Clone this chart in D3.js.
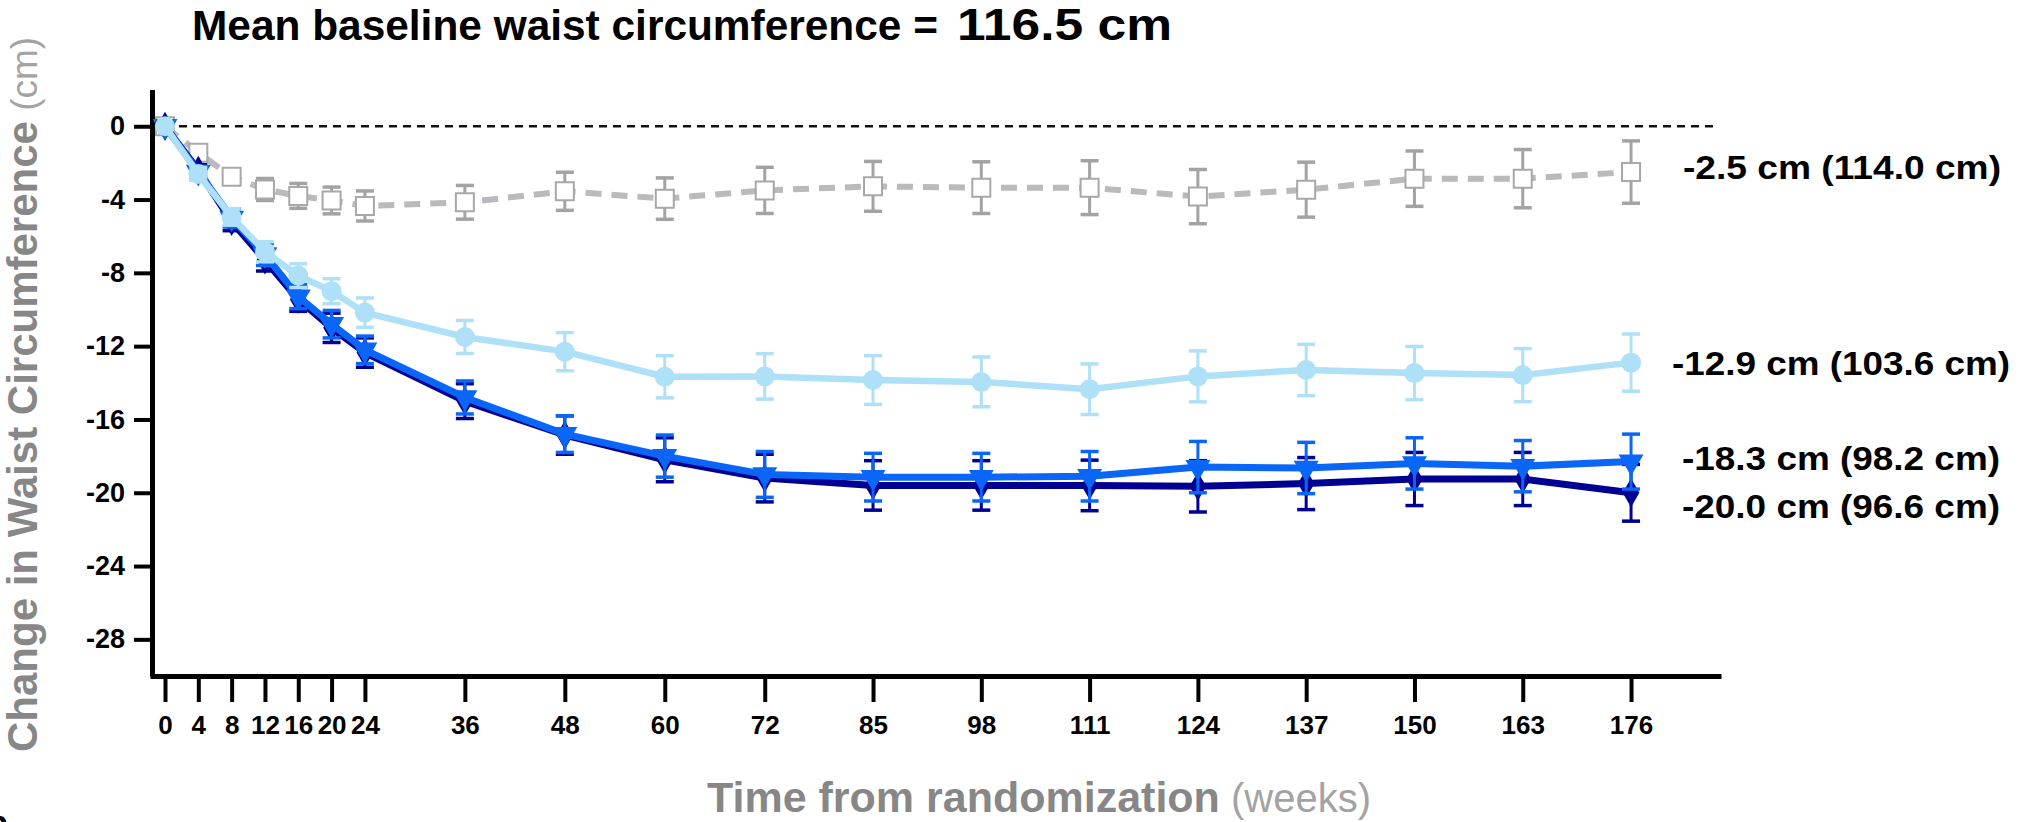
<!DOCTYPE html>
<html>
<head>
<meta charset="utf-8">
<script src="https://cdn.jsdelivr.net/npm/d3@7"></script>
<style>
  html, body { margin: 0; padding: 0; background: #fff; }
  svg { display: block; font-family: "Liberation Sans", Arial, Helvetica, sans-serif; }
</style>
</head>
<body>
<svg id="chart" width="2022" height="822"></svg>
<script>
// Visit weeks (x axis ticks)
const weeks = [0, 4, 8, 12, 16, 20, 24, 36, 48, 60, 72, 85, 98, 111, 124, 137, 150, 163, 176];

// Mean change in waist circumference (cm) and standard error per arm
const placeboMean = [0, -1.45, -2.75, -3.45, -3.8, -4.05, -4.35, -4.15, -3.55, -3.95, -3.5, -3.28, -3.35, -3.35, -3.84, -3.46, -2.86, -2.86, -2.5];
const placeboSE   = [0, 0.25, 0.4, 0.6, 0.68, 0.73, 0.82, 0.92, 1.04, 1.13, 1.26, 1.36, 1.41, 1.47, 1.48, 1.5, 1.51, 1.59, 1.7];

const dose5Mean = [0, -2.6, -4.95, -6.85, -8.15, -9.0, -10.17, -11.5, -12.3, -13.67, -13.65, -13.85, -13.95, -14.35, -13.65, -13.3, -13.47, -13.58, -12.9];
const dose5SE   = [0, 0.35, 0.45, 0.55, 0.65, 0.68, 0.8, 0.9, 1.04, 1.15, 1.24, 1.33, 1.36, 1.38, 1.39, 1.4, 1.45, 1.45, 1.56];

const dose10Mean = [0, -2.5, -5.0, -7.0, -9.3, -10.8, -12.2, -14.8, -16.8, -18.0, -19.0, -19.15, -19.15, -19.1, -18.6, -18.65, -18.4, -18.55, -18.3];
const dose10SE   = [0, 0.3, 0.5, 0.6, 0.65, 0.75, 0.75, 0.9, 1.0, 1.15, 1.25, 1.3, 1.3, 1.35, 1.4, 1.4, 1.4, 1.4, 1.5];

const dose15Mean = [0, -2.4, -5.2, -7.3, -9.45, -11.0, -12.35, -15.0, -16.85, -18.2, -19.2, -19.6, -19.6, -19.6, -19.65, -19.5, -19.25, -19.25, -20.0];
const dose15SE   = [0, 0.3, 0.5, 0.6, 0.65, 0.8, 0.8, 0.95, 1.05, 1.2, 1.3, 1.35, 1.35, 1.38, 1.4, 1.42, 1.45, 1.45, 1.55];

// y axis ticks
const yTicks = [0, -4, -8, -12, -16, -20, -24, -28];

// End-of-study annotations (change, and mean waist at week 176)
const endLabels = ["-2.5 cm (114.0 cm)", "-12.9 cm (103.6 cm)", "-18.3 cm (98.2 cm)", "-20.0 cm (96.6 cm)"];

const titleText = "Mean baseline waist circumference =";
const titleValue = "116.5 cm";

// ---- layout ----
const svg = d3.select("#chart");
const x = d3.scaleLinear().domain([-1.8, 186.8]).range([150, 1721]);
const y = d3.scaleLinear().domain([-30, 2]).range([676, 89.6]);

// Title
svg.append("text")
  .attr("x", 192).attr("y", 40)
  .attr("font-size", 42).attr("font-weight", "bold").attr("fill", "#000")
  .attr("textLength", 746).attr("lengthAdjust", "spacingAndGlyphs")
  .text(titleText);
svg.append("text")
  .attr("x", 957).attr("y", 40)
  .attr("font-size", 44).attr("font-weight", "bold").attr("fill", "#000")
  .attr("textLength", 215).attr("lengthAdjust", "spacingAndGlyphs")
  .text(titleValue);

// Zero reference line
svg.append("line")
  .attr("x1", x(0)).attr("x2", 1717)
  .attr("y1", y(0)).attr("y2", y(0))
  .attr("stroke", "#111").attr("stroke-width", 2.5)
  .attr("stroke-dasharray", "8,6");

// Axes
const yAxis = d3.axisLeft(y).tickValues(yTicks).tickSize(18).tickSizeOuter(0).tickPadding(9)
  .tickFormat(d => String(d));
const gy = svg.append("g").attr("transform", "translate(152,0)").call(yAxis);
gy.select(".domain").attr("stroke", "#000").attr("stroke-width", 5);
gy.selectAll(".tick line").attr("stroke", "#000").attr("stroke-width", 4);
gy.selectAll(".tick text").attr("font-size", 27).attr("font-weight", "bold")
  .attr("font-family", "'Liberation Sans', Arial, sans-serif").attr("fill", "#000");

const xAxis = d3.axisBottom(x).tickValues(weeks).tickSize(26).tickSizeOuter(0).tickPadding(14);
const gx = svg.append("g").attr("transform", "translate(0,676)").call(xAxis);
gx.select(".domain").attr("stroke", "#000").attr("stroke-width", 5);
gx.selectAll(".tick line").attr("stroke", "#000").attr("stroke-width", 4);
gx.selectAll(".tick text").attr("font-size", 26).attr("font-weight", "bold")
  .attr("font-family", "'Liberation Sans', Arial, sans-serif").attr("fill", "#000");

// Axis titles
const yt = svg.append("text")
  .attr("transform", "translate(37,752) rotate(-90)")
  .attr("font-size", 42).attr("font-weight", "bold").attr("fill", "#878787");
yt.append("tspan").text("Change in Waist Circumference");
yt.append("tspan").attr("font-weight", "normal").attr("font-size", 37).attr("fill", "#a3a3a3").text(" (cm)");

const xt = svg.append("text")
  .attr("x", 707).attr("y", 812)
  .attr("font-size", 43).attr("font-weight", "bold").attr("fill", "#878787");
xt.append("tspan").text("Time from randomization");
xt.append("tspan").attr("font-weight", "normal").attr("font-size", 40).attr("fill", "#a3a3a3").text(" (weeks)");

// Panel letter of the following figure, cut at the page edge
svg.append("text").attr("x", -13).attr("y", 834)
  .attr("font-size", 34).attr("font-weight", "bold").attr("fill", "#000").text("b");

// ---- series ----
const series = [
  { mean: placeboMean, se: placeboSE, line: "#b9b9be", bar: "#a3a3a3", width: 6, dash: "16,10",
    symbol: d3.symbolSquare, size: 324, fill: "#fff", stroke: "#a8a8a8", rotate: 0 },
  { mean: dose15Mean, se: dose15SE, line: "#000092", bar: "#000092", width: 7, dash: null,
    symbol: d3.symbolDiamond, size: 240, fill: "#000092", stroke: "none", rotate: 0 },
  { mean: dose10Mean, se: dose10SE, line: "#0a66f6", bar: "#0a66f6", width: 7, dash: null,
    symbol: d3.symbolTriangle, size: 270, fill: "#0a66f6", stroke: "none", rotate: 180 },
  { mean: dose5Mean, se: dose5SE, line: "#aee0f7", bar: "#aee0f7", width: 6.5, dash: null,
    symbol: d3.symbolCircle, size: 314, fill: "#aee0f7", stroke: "none", rotate: 0 }
];

const lineGen = d3.line().x(d => x(d.w)).y(d => y(d.m));
const capHalf = 9;

series.forEach(s => {
  const pts = weeks.map((w, i) => ({ w, m: s.mean[i], e: s.se[i] }));
  const g = svg.append("g");

  g.append("path").datum(pts)
    .attr("d", lineGen)
    .attr("fill", "none")
    .attr("stroke", s.line)
    .attr("stroke-width", s.width)
    .attr("stroke-linejoin", "round")
    .attr("stroke-dasharray", s.dash);

  const bars = g.selectAll(".err").data(pts.filter(d => d.e > 0)).enter().append("g");
  bars.append("line")
    .attr("x1", d => x(d.w)).attr("x2", d => x(d.w))
    .attr("y1", d => y(d.m + d.e)).attr("y2", d => y(d.m - d.e))
    .attr("stroke", s.bar).attr("stroke-width", 3);
  bars.append("line")
    .attr("x1", d => x(d.w) - capHalf).attr("x2", d => x(d.w) + capHalf)
    .attr("y1", d => y(d.m + d.e)).attr("y2", d => y(d.m + d.e))
    .attr("stroke", s.bar).attr("stroke-width", 3.5);
  bars.append("line")
    .attr("x1", d => x(d.w) - capHalf).attr("x2", d => x(d.w) + capHalf)
    .attr("y1", d => y(d.m - d.e)).attr("y2", d => y(d.m - d.e))
    .attr("stroke", s.bar).attr("stroke-width", 3.5);

  g.selectAll(".pt").data(pts).enter().append("path")
    .attr("d", d3.symbol().type(s.symbol).size(s.size))
    .attr("transform", d => `translate(${x(d.w)},${y(d.m)}) rotate(${s.rotate})`)
    .attr("fill", s.fill)
    .attr("stroke", s.stroke)
    .attr("stroke-width", 2);
});

// End-of-study labels, placed beside the last visit
const labelLayout = [
  { x: 1683, y: 179, w: 318 },
  { x: 1672, y: 375, w: 338 },
  { x: 1682, y: 470, w: 318 },
  { x: 1682, y: 518, w: 318 }
];
svg.selectAll(".endlab").data(endLabels).enter().append("text")
  .attr("x", (d, i) => labelLayout[i].x)
  .attr("y", (d, i) => labelLayout[i].y)
  .attr("textLength", (d, i) => labelLayout[i].w)
  .attr("lengthAdjust", "spacingAndGlyphs")
  .attr("font-size", 34).attr("font-weight", "bold").attr("fill", "#000")
  .text(d => d);
</script>
</body>
</html>
